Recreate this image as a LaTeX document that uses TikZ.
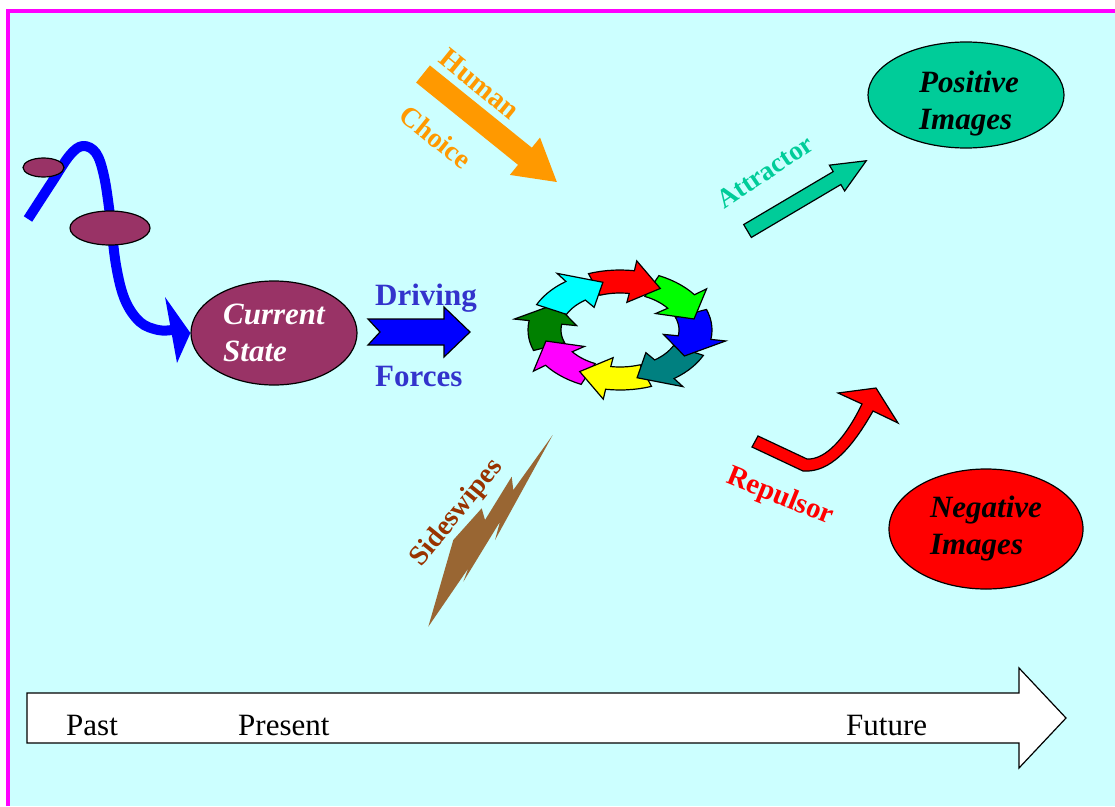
\documentclass[tikz,border=0pt]{standalone}
\usepackage{fontspec}
\setmainfont{Liberation Serif}
\usetikzlibrary{shapes.geometric}
\definecolor{kbg}{HTML}{CCFFFF}
\definecolor{kframe}{HTML}{FF00FF}
\definecolor{kplum}{HTML}{993366}
\definecolor{kmint}{HTML}{00CC99}
\definecolor{korange}{HTML}{FF9900}
\definecolor{kdrive}{HTML}{3333CC}
\definecolor{kbolt}{HTML}{996633}
\definecolor{kswipe}{HTML}{993300}
\definecolor{ccyan}{HTML}{00FFFF}
\definecolor{cred}{HTML}{FF0000}
\definecolor{cgreen}{HTML}{00FF00}
\definecolor{cblue}{HTML}{0000FF}
\definecolor{cteal}{HTML}{008080}
\definecolor{cyellow}{HTML}{FFFF00}
\definecolor{cmagenta}{HTML}{FF00FF}
\definecolor{cdkgreen}{HTML}{008000}
\tikzset{
  pics/blockarrow/.style args={#1/#2/#3/#4}{code={
    \path[pic actions] (0,-#2) -- (#1-#4,-#2) -- (#1-#4,-#3) -- (#1,0)
      -- (#1-#4,#3) -- (#1-#4,#2) -- (0,#2) -- cycle;
  }}
}

\begin{document}
\begin{tikzpicture}[x=1pt, y=-1pt,
  blob/.style={ellipse, draw=black, line width=1.2pt, inner sep=0pt, align=left,
    font=\bfseries\itshape\fontsize{31}{37}\selectfont},
  blobtext/.style={inner sep=0pt, align=left,
    font=\bfseries\itshape\fontsize{31}{37}\selectfont},
  drivelbl/.style={font=\bfseries\fontsize{31}{36}\selectfont, text=kdrive,
    anchor=base west, inner sep=0pt},
  slantlbl/.style={font=\bfseries\fontsize{#1}{30}\selectfont, inner sep=0pt},
  timelbl/.style={font=\fontsize{31}{32}\selectfont, anchor=base west, inner sep=0pt},
  outline/.style={draw=black, line width=1.2pt, line join=miter}]

  \useasboundingbox (0,0) rectangle (1115,806);

  %% Background and frame
  \fill[white] (0,0) rectangle (1115,806);
  \fill[kbg] (8,11) rectangle (1115,806);
  \draw[kframe, line width=4pt] (8,806) -- (8,11) -- (1115,11);

  %% Time line
  \filldraw[fill=white, draw=black, line width=1.2pt]
    (27,693) -- (1019,693) -- (1019,668) -- (1066,718) -- (1019,768)
    -- (1019,743) -- (27,743) -- cycle;
  \node[timelbl] (past) at (66,735) {Past};
  \node[timelbl] (present) at (238,735) {Present};
  \node[timelbl] (future) at (846,735) {Future};

  %% Current state and the path leading to it
  \node[blob, fill=kplum, text=white, minimum width=166pt, minimum height=104pt]
    (cur) at (274,333) {Current\\State};
  \draw[cblue, line width=10pt, line join=round] plot[smooth, tension=0.6] coordinates
    {(28,219) (52,182) (70,155) (83,146) (96,153) (104,176) (110,215)
     (116,265) (125,300) (140,322) (158,330) (172,330)};
  \fill[cblue] (165,297) -- (cur.west) -- (177,363) -- cycle;
  \node[blob, fill=kplum, minimum width=41pt, minimum height=19pt] (dotA) at (43.5,167.5) {};
  \node[blob, fill=kplum, minimum width=80pt, minimum height=34pt] (dotB) at (110,228) {};

  %% Driving forces
  \filldraw[fill=cblue, outline] (368,319) -- (444,319) -- (444,307) -- (470,332)
    -- (444,357) -- (444,345) -- (368,345) -- (380,332) -- cycle;
  \node[drivelbl] (driving) at (375,305) {Driving};
  \node[drivelbl] (forces) at (375,386) {Forces};

  %% Cycle of arrows
  \foreach \ts/\col in {160/cdkgreen, 115/cmagenta, 70/cyellow, 25/cteal,
                        -20/cblue, -65/cgreen, -110/cred, -155/ccyan} {
    \pgfmathsetmacro\hd{\ts+29}
    \pgfmathsetmacro\tp{\ts+52}
    \filldraw[fill=\col, outline]
      plot[domain=\ts:\hd, samples=8, variable=\t] ({620+92*cos(\t)}, {330+60*sin(\t)})
      -- ({620+107*cos(\hd)}, {330+70*sin(\hd)})
      -- ({620+76*cos(\tp)}, {330+49*sin(\tp)})
      -- ({620+44*cos(\hd)}, {330+28*sin(\hd)})
      -- plot[domain=\hd:\ts, samples=8, variable=\t] ({620+59*cos(\t)}, {330+37*sin(\t)})
      -- cycle;
  }

  %% Human choice
  \pic[fill=korange, rotate=-38.9] (choicearrow) at (423,74) {blockarrow=172/11/24/41};
  \node[slantlbl=29, text=korange, rotate=-39] (human) at (480,84) {Human};
  \node[slantlbl=28, text=korange, rotate=-39] (choice) at (436,137) {Choice};

  %% Sideswipes
  \fill[kbolt] (552.7,435) -- (495,540) -- (500,521.7) -- (463.3,581.7) -- (468.3,568.3)
    -- (428.3,626.7) -- (453.3,540) -- (481.7,508.3) -- (485,520) -- (511.7,476.7)
    -- (513.3,490) -- cycle;
  \node[slantlbl=28, text=kswipe, rotate=51] (swipe) at (457,513) {Sideswipes};

  %% Images of the future
  \node[blob, fill=kmint, minimum width=196pt, minimum height=106pt] (pos) at (966,95) {};
  \node[blobtext] (postext) at (969,104) {Positive\\Images};
  \node[blob, fill=cred, minimum width=194pt, minimum height=120pt]
    (neg) at (986,529) {Negative\\Images};

  %% Attractor
  \pic[fill=kmint, outline, rotate=30.6] (attarrow) at (747.5,231) {blockarrow=138/7.5/15/34};
  \node[slantlbl=27, text=kmint, rotate=34] (attract) at (765,172) {Attractor};

  %% Repulsor
  \filldraw[fill=cred, outline] (752,447) -- (803,471)
    .. controls (830,473) and (852,448) .. (873,411) -- (898,423) -- (876,388)
    -- (838,393) -- (862,404) .. controls (846,437) and (826,460) .. (807,459)
    -- (758,436) -- cycle;
  \node[slantlbl=29, text=cred, rotate=-22] (repulse) at (780,497) {Repulsor};

\end{tikzpicture}
\end{document}
